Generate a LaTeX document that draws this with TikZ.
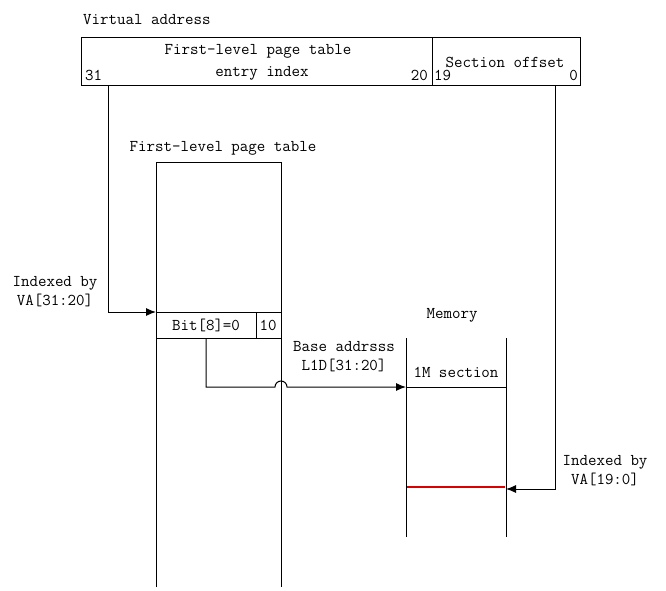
\documentclass[tikz,border=0pt]{standalone}
\usetikzlibrary{arrows.meta}
\begin{document}
\begin{tikzpicture}[x=1pt,y=-1pt,
  txt/.style={inner sep=0pt,font=\ttfamily\fontsize{16.5}{19}\selectfont},
  ln/.style={draw=black,line width=1pt},
  arr/.style={ln,-{Latex[length=10pt,width=8pt]}}]
\useasboundingbox (0,0) rectangle (666,591);
% virtual address
\node[txt,anchor=west] (va) at (83,20) {Virtual address};
\draw[ln] (81,38) rectangle (580,86);
\draw[ln] (432,38) -- (432,86);
\node[txt] (fl1) at (258,51) {First-level page table};
\node[txt] (fl2) at (262,73) {entry index};
\node[txt,anchor=west] (b31) at (85,75) {31};
\node[txt,anchor=east] (b20) at (428,75) {20};
\node[txt,anchor=west] (b19) at (434,75) {19};
\node[txt,anchor=east] (b0) at (578,75) {0};
\node[txt] (so) at (505,62) {Section offset};
\coordinate (p31) at (108,86);
\coordinate (p0) at (555,86);
% first-level page table
\node[txt] (fltl) at (223,148) {First-level page table};
\draw[ln] (156,587) -- (156,162) -- (281,162) -- (281,587);
\draw[ln] (156,312) -- (281,312);
\draw[ln] (156,338) -- (281,338);
\draw[ln] (256,312) -- (256,338);
\node[txt] (bit) at (206,325) {Bit[8]=0};
\node[txt] (ten) at (268,325) {10};
\coordinate (entry) at (156,312);
\node[txt,align=center] (idx1) at (55,292) {Indexed by\\VA[31:20]};
\draw[arr] (p31) -- (108,312) -- (entry);
% base address
\node[txt,align=center] (base) at (344,357) {Base addrsss\\L1D[31:20]};
% memory
\node[txt] (mem) at (452,315) {Memory};
\draw[ln] (406,338) -- (406,537);
\draw[ln] (506,338) -- (506,537);
\draw[ln] (406,387) -- (506,387);
\node[txt] (sec) at (456,372) {1M section};
\coordinate (memin) at (406,387);
\draw[line width=2pt,draw=red!85!black] (407,487) -- (505,487);
\coordinate (memoff) at (506,489);
\draw[arr] (206,338) -- (206,387) -- (275,387) arc[start angle=180,end angle=360,radius=6] -- (memin);
\node[txt,align=center] (idx2) at (605,471) {Indexed by\\VA[19:0]};
\draw[arr] (p0) -- (555,489) -- (memoff);
\end{tikzpicture}
\end{document}
